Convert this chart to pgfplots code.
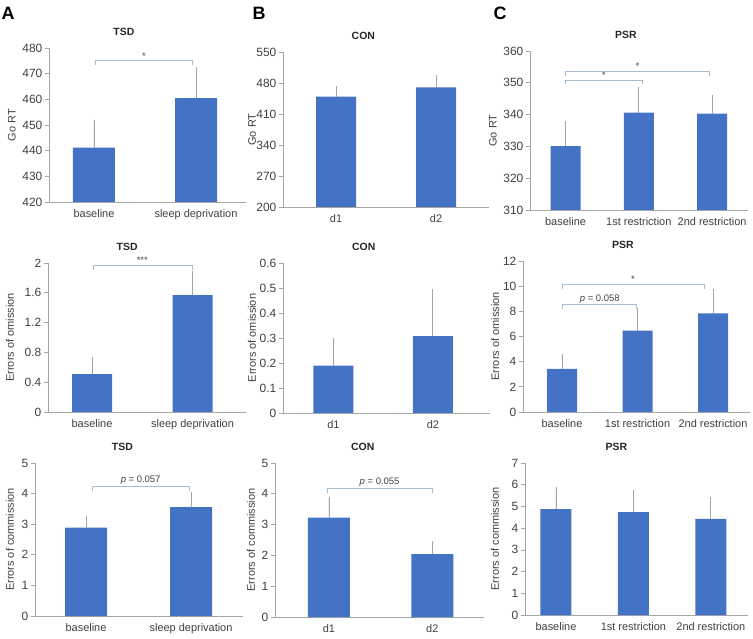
\documentclass[border=0pt]{standalone}
\usepackage{pgfplots}
\pgfplotsset{compat=1.18}
\usepackage{fontspec}
\setmainfont{Liberation Sans}
\definecolor{barblue}{HTML}{4472C4}
\definecolor{axgray}{HTML}{A6A6A6}
\definecolor{errgray}{HTML}{A5A5A5}
\definecolor{brkcol}{HTML}{A9BDD2}
\definecolor{txt}{HTML}{404040}
\pgfplotsset{
  panel/.style={
    scale only axis, anchor=south west, clip=false,
    axis x line*=bottom, axis y line*=left,
    axis line style={draw=axgray, line width=0.8pt},
    tick align=outside, major tick length=4bp,
    xtick style={draw=none},
    ytick style={draw=axgray, line width=0.7pt},
    ticklabel style={font=\fontsize{11}{13}\selectfont, text=txt},
    yticklabel style={inner sep=2.5bp, font=\fontsize{12}{14}\selectfont},
    /pgf/number format/assume math mode=true,
    yticklabel style={/pgf/number format/fixed},
    ybar,
    title style={font=\bfseries\fontsize{10.5}{12}\selectfont, text=black!85, anchor=center, yshift=10bp},
    every axis y label/.style={rotate=90, anchor=center, font=\fontsize{11}{13}\selectfont, text=txt},
  },
  bars/.style={fill=barblue, draw=none,
    error bars/.cd, y dir=plus, y explicit,
    error bar style={draw=errgray, line width=0.9pt},
    error mark options={draw=errgray, line width=0.9pt, mark size=2bp}},
}
\newcommand{\brk}[5]{%
  \draw[brkcol, line width=0.7pt] ([yshift=-4.5bp]axis cs:#1,#4) -- (axis cs:#1,#4) -- (axis cs:#2,#4) -- ([yshift=-4.5bp]axis cs:#2,#4);
  \node[anchor=south, inner sep=1.2bp, font=\fontsize{9.5}{11}\selectfont, text=txt] at (axis cs:#3,#4) {#5};}
\begin{document}
\begin{tikzpicture}
\useasboundingbox (0,0) rectangle (753bp,639bp);
\node[font=\bfseries\fontsize{18}{20}\selectfont] at (8bp,626bp) {A};
\node[font=\bfseries\fontsize{18}{20}\selectfont] at (259bp,626bp) {B};
\node[font=\bfseries\fontsize{18}{20}\selectfont] at (500bp,626bp) {C};

% ---------- Row 1 ----------
\begin{axis}[panel, at={(49bp,437bp)}, width=197bp, height=154bp,
  xmin=-0.441, xmax=1.49, ymin=420, ymax=480, ytick={420,430,...,480},
  xtick={0,1}, xticklabels={baseline, sleep deprivation}, bar width=42bp,
  title={TSD}, title style={at={(0.38,1)}},
  ylabel={Go RT}, ylabel style={at={(rel axis cs:-0.188,0.5)}}]
\addplot[bars] coordinates {(0,441.2) +- (0,10) (1,460.5) +- (0,11.3)};
\brk{0.01}{0.965}{0.49}{475}{*}
\end{axis}

\begin{axis}[panel, at={(283bp,432bp)}, width=206bp, height=155bp,
  xmin=-0.53, xmax=1.53, ymin=200, ymax=550, ytick={200,270,...,550},
  xtick={0,1}, xticklabels={d1, d2}, bar width=40bp,
  title={CON}, title style={at={(0.39,1)}},
  ylabel={Go RT}, ylabel style={at={(rel axis cs:-0.150,0.5)}}]
\addplot[bars] coordinates {(0,449) +- (0,19) (1,470) +- (0,23)};
\end{axis}

\begin{axis}[panel, at={(530bp,429bp)}, width=218bp, height=159bp,
  xmin=-0.485, xmax=2.49, ymin=310, ymax=360, ytick={310,320,...,360},
  xtick={0,1,2}, xticklabels={baseline, 1st restriction, 2nd restriction}, bar width=30bp,
  title={PSR}, title style={at={(0.44,1)}},
  ylabel={Go RT}, ylabel style={at={(rel axis cs:-0.170,0.5)}}]
\addplot[bars] coordinates {(0,330.1) +- (0,7.2) (1,340.6) +- (0,7.3) (2,340.3) +- (0,5.1)};
\brk{0}{1.05}{0.52}{350.9}{*}
\brk{0}{1.96}{0.98}{353.7}{*}
\end{axis}

% ---------- Row 2 ----------
\begin{axis}[panel, at={(48bp,227bp)}, width=198bp, height=149bp,
  xmin=-0.438, xmax=1.532, ymin=0, ymax=2, ytick={0,0.4,0.8,1.2,1.6,2},
  xtick={0,1}, xticklabels={baseline, sleep deprivation}, bar width=40bp,
  title={TSD}, title style={at={(0.40,1)}},
  ylabel={Errors of omission}, ylabel style={at={(rel axis cs:-0.192,0.5)}}]
\addplot[bars] coordinates {(0,0.51) +- (0,0.2) (1,1.57) +- (0,0.3)};
\brk{0.01}{1.0}{0.5}{1.97}{***}
\end{axis}

\begin{axis}[panel, at={(283bp,226bp)}, width=207bp, height=150bp,
  xmin=-0.508, xmax=1.575, ymin=0, ymax=0.6, ytick={0,0.1,0.2,0.3,0.4,0.5,0.6},
  xtick={0,1}, xticklabels={d1, d2}, bar width=40bp,
  title={CON}, title style={at={(0.39,1)}},
  ylabel={Errors of omission}, ylabel style={at={(rel axis cs:-0.150,0.5)}}]
\addplot[bars] coordinates {(0,0.189) +- (0,0.101) (1,0.307) +- (0,0.18)};
\end{axis}

\begin{axis}[panel, at={(523bp,227bp)}, width=227bp, height=151bp,
  xmin=-0.517, xmax=2.49, ymin=0, ymax=12, ytick={0,2,...,12},
  xtick={0,1,2}, xticklabels={baseline, 1st restriction, 2nd restriction}, bar width=30bp,
  title={PSR}, title style={at={(0.44,1)}},
  ylabel={Errors of omission}, ylabel style={at={(rel axis cs:-0.123,0.5)}}]
\addplot[bars] coordinates {(0,3.42) +- (0,1.03) (1,6.46) +- (0,1.67) (2,7.84) +- (0,1.8)};
\brk{0}{0.99}{0.5}{8.53}{\textit{p} = 0.058}
\brk{0}{1.88}{0.94}{10.15}{*}
\end{axis}

% ---------- Row 3 ----------
\begin{axis}[panel, at={(35bp,23bp)}, width=208bp, height=153bp,
  xmin=-0.486, xmax=1.495, ymin=0, ymax=5, ytick={0,1,...,5},
  xtick={0,1}, xticklabels={baseline, sleep deprivation}, bar width=42bp,
  title={TSD}, title style={at={(0.42,1)}},
  ylabel={Errors of commission}, ylabel style={at={(rel axis cs:-0.120,0.5)}}]
\addplot[bars] coordinates {(0,2.89) +- (0,0.3) (1,3.56) +- (0,0.44)};
\brk{0.06}{0.98}{0.52}{4.24}{\textit{p} = 0.057}
\end{axis}

\begin{axis}[panel, at={(275bp,22bp)}, width=209bp, height=154bp,
  xmin=-0.522, xmax=1.5, ymin=0, ymax=5, ytick={0,1,...,5},
  xtick={0,1}, xticklabels={d1, d2}, bar width=42bp,
  title={CON}, title style={at={(0.42,1)}},
  ylabel={Errors of commission}, ylabel style={at={(rel axis cs:-0.115,0.5)}}]
\addplot[bars] coordinates {(0,3.23) +- (0,0.61) (1,2.04) +- (0,0.35)};
\brk{-0.02}{1.0}{0.49}{4.18}{\textit{p} = 0.055}
\end{axis}

\begin{axis}[panel, at={(525bp,24bp)}, width=223bp, height=152bp,
  xmin=-0.4, xmax=2.48, ymin=0, ymax=7, ytick={0,1,...,7},
  xtick={0,1,2}, xticklabels={baseline, 1st restriction, 2nd restriction}, bar width=31bp,
  title={PSR}, title style={at={(0.41,1)}},
  ylabel={Errors of commission}, ylabel style={at={(rel axis cs:-0.135,0.5)}}]
\addplot[bars] coordinates {(0,4.88) +- (0,0.94) (1,4.74) +- (0,0.91) (2,4.43) +- (0,0.91)};
\end{axis}
\end{tikzpicture}
\end{document}
